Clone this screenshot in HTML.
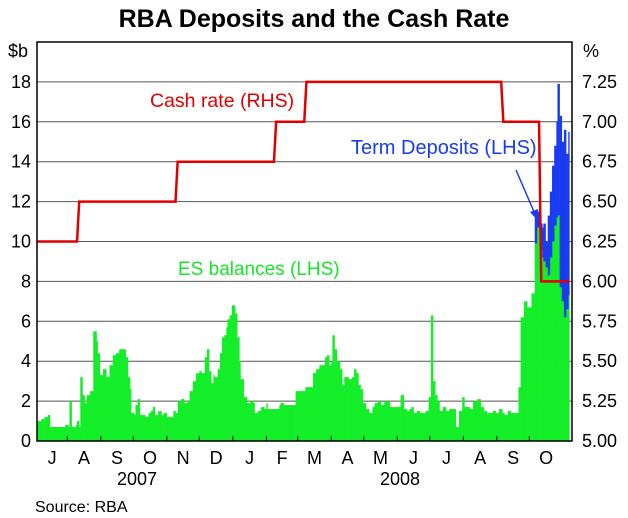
<!DOCTYPE html>
<html><head><meta charset="utf-8">
<style>
body{margin:0;background:#fff;}
svg{display:block;font-family:"Liberation Sans",Arial,sans-serif;}
</style></head>
<body>
<svg id="chart" width="628" height="518" viewBox="0 0 628 518">
<rect width="628" height="518" fill="#fff"/>
<text x="314" y="27" text-anchor="middle" font-size="25" font-weight="bold">RBA Deposits and the Cash Rate</text>
<text x="8" y="57" font-size="18">$b</text>
<text x="583" y="57" font-size="18">%</text>
<g id="grid"></g>
<g id="bars"></g>
<g id="cash"></g>
<g id="axes"></g>
<text x="150" y="107" font-size="19.5" fill="#e00000">Cash rate (RHS)</text>
<text x="351" y="154" font-size="20" fill="#1a3cf0">Term Deposits (LHS)</text>
<text x="178" y="275" font-size="19" fill="#14e628">ES balances (LHS)</text>
<line x1="516" y1="170" x2="535" y2="214" stroke="#1a3cf0" stroke-width="1.5"/>
<polygon points="539,222 530,212 538,209" fill="#1a3cf0"/>
<text x="137" y="485" font-size="18" text-anchor="middle">2007</text>
<text x="400" y="485" font-size="18" text-anchor="middle">2008</text>
<text x="35" y="512" font-size="16">Source:  RBA</text>
</svg>
<script>
const esDays=[0,4,7,10,12,17,21,26,29,30,32,36,37,39,40,42,44,46,49,52,55,56,58,61,64,67,70,73,76,79,82,84,86,87,90,91,93,95,100,103,105,107,109,112,115,117,120,123,126,128,130,133,136,139,141,144,147,150,152,155,157,159,161,163,164,167,169,171,173,175,176,178,180,183,185,187,188,191,194,197,200,201,204,207,210,212,213,216,219,222,224,225,228,234,239,245,248,252,255,258,261,263,266,268,270,272,273,275,277,280,282,284,288,291,293,295,297,299,301,304,307,310,312,315,318,321,323,326,334,336,339,342,344,346,348,351,354,359,362,364,366,368,370,372,375,378,381,386,387,390,393,395,400,403,407,410,413,416,421,424,427,430,432,435,438,444,445,447,450,453,456,457,460,462,465,467,468,470,472,474,476,478,480,481,483,485,487,489,491];
const esVals=[1.0,1.1,1.2,1.3,0.7,0.7,0.7,0.8,0.7,2.0,0.7,0.8,1.0,0.7,3.2,2.3,1.9,2.3,2.5,5.5,5.0,4.4,3.3,3.6,3.2,3.8,4.3,4.4,4.6,4.6,4.2,3.2,2.6,1.4,1.3,1.8,2.1,1.3,1.2,1.4,1.5,1.7,1.3,1.5,1.3,1.4,1.2,1.2,1.5,1.4,2.0,2.1,1.9,2.0,2.5,3.0,3.4,3.5,3.4,4.2,4.6,3.5,2.9,3.3,3.2,3.6,4.4,5.2,5.3,5.7,6.1,6.3,6.8,6.4,5.2,4.0,3.1,2.2,1.9,2.0,1.9,1.4,1.5,1.7,1.6,1.9,1.6,1.6,1.6,1.6,1.8,1.9,1.8,1.8,2.5,2.5,2.7,2.7,3.4,3.6,3.8,3.8,4.2,4.3,3.8,4.0,5.3,4.6,4.0,3.6,2.8,3.2,3.1,3.2,3.6,3.4,2.8,2.6,1.9,1.6,1.4,1.7,1.9,2.0,1.8,2.0,2.0,1.7,1.7,2.3,1.6,1.5,1.6,1.7,1.4,1.5,1.4,1.5,2.2,6.3,3.0,2.3,2.0,1.5,1.7,1.5,1.6,1.6,0.7,1.5,2.2,1.7,1.6,2.0,2.1,1.7,1.5,1.4,1.5,1.4,1.6,1.4,1.3,1.5,1.4,1.4,2.7,6.2,7.0,6.7,6.7,7.4,9.9,10.7,9.6,9.2,9.0,8.7,8.3,9.2,10.0,10.8,11.2,11.3,7.7,7.0,6.2,6.6,7.3];
const tdDays=[460,462,465,467,468,470,472,474,476,478,480,481,483,485,487,489,491];
const tdVals=[1.6,0.8,1.3,1.5,1.9,1.3,3.0,3.3,3.8,4.0,4.8,6.6,8.6,8.0,9.4,7.8,8.2];
const cashDays=[0,38,129,220,248,430,465];
const cashVals=[6.25,6.50,6.75,7.00,7.25,7.00,6.00];
const leftTicks=[0,2,4,6,8,10,12,14,16,18];
const rightTicks=["5.00","5.25","5.50","5.75","6.00","6.25","6.50","6.75","7.00","7.25"];
const monthLabels=["J","A","S","O","N","D","J","F","M","A","M","J","J","A","S","O"];
const monthStartDays=[-3,28,59,89,120,150,181,212,241,272,302,333,363,394,425,455,486];
const lastDay=492;

const X0=37,X1=572,Y0=441,YT=42,PXD=1.082;
const xs=d=>X0+d*PXD;
const yl=v=>Y0-v*(Y0-YT)/20;
const yr=r=>Y0-(r-5)*(Y0-YT)/2.5;
const NS="http://www.w3.org/2000/svg";
function mk(tag,attrs,parent){const e=document.createElementNS(NS,tag);for(const k in attrs)e.setAttribute(k,attrs[k]);parent.appendChild(e);return e;}

const grid=document.getElementById('grid');
for(let i=1;i<=10;i++){
  const v=i*2;
  const l=mk('line',{x1:X0,x2:X1,y1:yl(v),y2:yl(v),stroke:'#555','stroke-width':1},grid);
  
  
}
const bars=document.getElementById('bars');
for(let i=0;i<esDays.length;i++){
  const d0=esDays[i],d1=(i+1<esDays.length)?esDays[i+1]:lastDay;
  const r=mk('rect',{x:xs(d0),width:xs(d1)-xs(d0)+0.3,y:yl(esVals[i]),height:Y0-yl(esVals[i]),fill:'#14ee28'},bars);
  
  
}
for(let i=0;i<tdDays.length;i++){
  const d0=tdDays[i],d1=(i+1<tdDays.length)?tdDays[i+1]:lastDay;
  let base=esVals[0];
  for(let j=0;j<esDays.length;j++){if(esDays[j]<=d0)base=esVals[j];}
  const r=mk('rect',{x:xs(d0),width:xs(d1)-xs(d0)+0.3,y:yl(base+tdVals[i]),height:yl(base)-yl(base+tdVals[i]),fill:'#1a3cf0'},bars);
  
  
}
const cash=document.getElementById('cash');
let pts=[];
for(let i=0;i<cashDays.length;i++){
  if(i>0)pts.push(xs(cashDays[i]-1)+','+yr(cashVals[i-1]));
  pts.push(xs(cashDays[i]+(i>0?1:0))+','+yr(cashVals[i]));
}
pts.push(xs(lastDay)+','+yr(cashVals[cashVals.length-1]));
const cl=mk('polyline',{points:pts.join(' '),fill:'none',stroke:'#e00000','stroke-width':2.5},cash);



const axes=document.getElementById('axes');
const fr=mk('rect',{x:X0,y:YT,width:X1-X0,height:Y0-YT,fill:'none',stroke:'#000','stroke-width':1.5},axes);


leftTicks.forEach(v=>{
  const t=mk('text',{x:31,y:yl(v)+6,'text-anchor':'end','font-size':18},axes);
  t.textContent=v;
  
  
});
rightTicks.forEach(s=>{
  const t=mk('text',{x:582,y:yr(parseFloat(s))+6,'font-size':18},axes);
  t.textContent=s;
  
  
});
for(let i=1;i<monthStartDays.length-1;i++){
  const x=xs(monthStartDays[i]);
  const t=mk('line',{x1:x,x2:x,y1:Y0,y2:Y0-5,stroke:'#000','stroke-width':1},axes);
  
  
}
monthLabels.forEach((m,i)=>{
  const x=(xs(Math.max(0,monthStartDays[i]))+xs(monthStartDays[i+1]))/2;
  const t=mk('text',{x:x,y:464,'text-anchor':'middle','font-size':18},axes);
  t.textContent=m;
  
  
});
</script>
</body></html>
